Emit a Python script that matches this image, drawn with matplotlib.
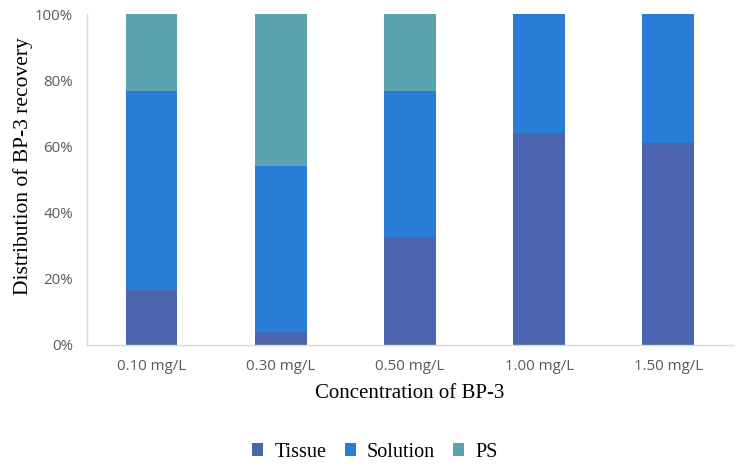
import numpy as np
import matplotlib.pyplot as plt

# data (percent of recovery)
categories = ['0.10 mg/L', '0.30 mg/L', '0.50 mg/L', '1.00 mg/L', '1.50 mg/L']
tissue = [16.6, 3.9, 32.6, 64.0, 61.0]
solution = [60.1, 50.2, 44.1, 36.0, 39.0]
ps = [23.3, 45.9, 23.3, 0.0, 0.0]

colors = ['#4A65AE', '#2A7DD6', '#5BA3AE']

fig = plt.figure(figsize=(7.38, 4.68), dpi=100)
ax = fig.add_axes([0.118, 0.263, 0.875, 0.707])

x = np.arange(len(categories))
w = 0.40
ax.bar(x, tissue, w, color=colors[0], label='Tissue')
ax.bar(x, solution, w, bottom=tissue, color=colors[1], label='Solution')
bottom2 = np.array(tissue) + np.array(solution)
ax.bar(x, ps, w, bottom=bottom2, color=colors[2], label='PS')

ax.set_xlim(-0.5, len(categories) - 0.5)
ax.set_ylim(0, 100)
ax.set_yticks(np.arange(0, 101, 20))
ax.set_yticklabels(['%d%%' % v for v in range(0, 101, 20)])
ax.set_xticks(x)
ax.set_xticklabels(categories)

for s in ['top', 'right']:
    ax.spines[s].set_visible(False)
for s in ['left', 'bottom']:
    ax.spines[s].set_color('#D9D9D9')
    ax.spines[s].set_linewidth(1.0)
ax.tick_params(length=0, labelsize=10.8, labelcolor='#595959', pad=10)
for lab in ax.get_xticklabels() + ax.get_yticklabels():
    lab.set_family('Open Sans')

ax.set_xlabel('Concentration of BP-3', family='Liberation Serif', fontsize=15, labelpad=7)
ax.set_ylabel('Distribution of BP-3 recovery', family='Liberation Serif', fontsize=15.5)
ax.yaxis.set_label_coords(-0.084, 0.54)

fig.legend(loc='center', bbox_to_anchor=(0.508, 0.034), ncol=3, frameon=False,
           prop={'family': 'Liberation Serif', 'size': 14.5}, handlelength=0.55, handleheight=0.55,
           handletextpad=0.55, columnspacing=0.9)

fig.savefig('out.png', dpi=100)
